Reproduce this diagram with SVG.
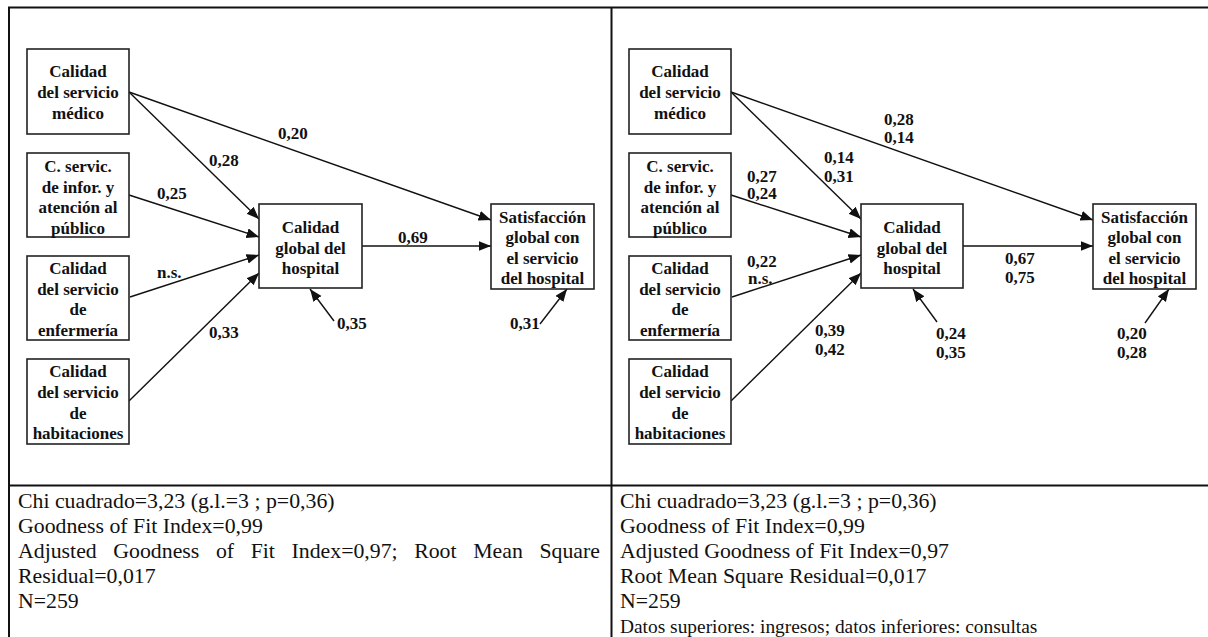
<svg xmlns="http://www.w3.org/2000/svg" width="1208" height="637" viewBox="0 0 1208 637">
  <style>
    .frame { stroke: #111; stroke-width: 2; fill: none; }
    .box { fill: #fff; stroke: #222; stroke-width: 1.6; }
    .serif { font-family: 'Liberation Serif', Tinos, 'Times New Roman', Times, 'Nimbus Roman', 'DejaVu Serif', serif; }
    .nt { font-weight: bold; font-size: 17px; fill: #111; text-anchor: middle; }
    .lbl { font-weight: bold; font-size: 17px; fill: #111; }
    .edge { stroke: #111; stroke-width: 1.4; fill: none; marker-end: url(#arrow); }
    .stat { font-size: 21.8px; fill: #111; }
    .note { font-size: 19.4px; fill: #111; }
  </style>
  <defs>
    <marker id="arrow" markerUnits="userSpaceOnUse" markerWidth="13" markerHeight="11" refX="12.5" refY="5" orient="auto">
      <path d="M0,0 L12.5,5 L0,10 z" fill="#111"/>
    </marker>
  </defs>
  <rect x="0" y="0" width="1208" height="637" fill="#fff"/>

  <!-- table frame -->
  <g id="frame">
    <line class="frame" x1="8" y1="7.5" x2="1208" y2="7.5"/>
    <line class="frame" x1="9" y1="7" x2="9" y2="637"/>
    <line class="frame" x1="611.5" y1="7" x2="611.5" y2="637"/>
    <line class="frame" x1="9" y1="485.5" x2="1208" y2="485.5"/>
  </g>

  <g class="serif" font-family="Liberation Serif, Tinos, Times New Roman, DejaVu Serif, serif">
  <!-- ===== left model ===== -->
  <g id="connectors-left">
    <line class="edge" x1="129" y1="92" x2="491" y2="220"/>
    <line class="edge" x1="129" y1="92" x2="259" y2="219"/>
    <line class="edge" x1="129" y1="195" x2="259" y2="237"/>
    <line class="edge" x1="130" y1="297" x2="259" y2="255"/>
    <line class="edge" x1="129" y1="401" x2="259" y2="273"/>
    <line class="edge" x1="362" y1="246" x2="491" y2="246"/>
    <line class="edge" x1="334" y1="321" x2="310" y2="289"/>
    <line class="edge" x1="540" y1="324" x2="567" y2="289"/>
    <text class="lbl" x="278" y="139">0,20</text>
    <text class="lbl" x="209" y="166">0,28</text>
    <text class="lbl" x="157" y="199">0,25</text>
    <text class="lbl" x="157" y="278">n.s.</text>
    <text class="lbl" x="209" y="338">0,33</text>
    <text class="lbl" x="398" y="243">0,69</text>
    <text class="lbl" x="337" y="329">0,35</text>
    <text class="lbl" x="510" y="329">0,31</text>
  </g>

  <g id="L-medico">
    <rect class="box" x="27" y="49" width="102" height="85"/>
    <text class="nt" x="78" y="77">Calidad</text>
    <text class="nt" x="78" y="98">del servicio</text>
    <text class="nt" x="78" y="119">médico</text>
  </g>
  <g id="L-informacion">
    <rect class="box" x="27" y="153" width="102" height="84"/>
    <text class="nt" x="78" y="172">C. servic.</text>
    <text class="nt" x="78" y="193">de infor. y</text>
    <text class="nt" x="78" y="213">atención al</text>
    <text class="nt" x="78" y="234">público</text>
  </g>
  <g id="L-enfermeria">
    <rect class="box" x="27" y="256" width="102" height="84"/>
    <text class="nt" x="78" y="274">Calidad</text>
    <text class="nt" x="78" y="295">del servicio</text>
    <text class="nt" x="78" y="315">de</text>
    <text class="nt" x="78" y="336">enfermería</text>
  </g>
  <g id="L-habitaciones">
    <rect class="box" x="27" y="359" width="102" height="85"/>
    <text class="nt" x="78" y="377">Calidad</text>
    <text class="nt" x="78" y="398">del servicio</text>
    <text class="nt" x="78" y="419">de</text>
    <text class="nt" x="78" y="439">habitaciones</text>
  </g>
  <g id="L-global">
    <rect class="box" x="259" y="204" width="103" height="84"/>
    <text class="nt" x="310.5" y="233">Calidad</text>
    <text class="nt" x="310.5" y="254">global del</text>
    <text class="nt" x="310.5" y="274">hospital</text>
  </g>
  <g id="L-satisfaccion">
    <rect class="box" x="491" y="204" width="103" height="85"/>
    <text class="nt" x="542.5" y="223">Satisfacción</text>
    <text class="nt" x="542.5" y="243">global con</text>
    <text class="nt" x="542.5" y="264">el servicio</text>
    <text class="nt" x="542.5" y="284">del hospital</text>
  </g>

  <!-- ===== right model (same layout, two samples) ===== -->
  <g id="connectors-right">
    <line class="edge" x1="731" y1="92" x2="1093" y2="220"/>
    <line class="edge" x1="731" y1="92" x2="861" y2="219"/>
    <line class="edge" x1="731" y1="195" x2="861" y2="237"/>
    <line class="edge" x1="732" y1="297" x2="861" y2="255"/>
    <line class="edge" x1="731" y1="401" x2="861" y2="273"/>
    <line class="edge" x1="963" y1="246" x2="1093" y2="246"/>
    <line class="edge" x1="937" y1="322" x2="913" y2="289"/>
    <line class="edge" x1="1145" y1="323" x2="1169" y2="289"/>
    <text class="lbl" x="884" y="125">0,28</text>
    <text class="lbl" x="884" y="143">0,14</text>
    <text class="lbl" x="824" y="163">0,14</text>
    <text class="lbl" x="824" y="182">0,31</text>
    <text class="lbl" x="747" y="182">0,27</text>
    <text class="lbl" x="747" y="199">0,24</text>
    <text class="lbl" x="747" y="267">0,22</text>
    <text class="lbl" x="748" y="284">n.s.</text>
    <text class="lbl" x="815" y="336">0,39</text>
    <text class="lbl" x="815" y="355">0,42</text>
    <text class="lbl" x="1005" y="264">0,67</text>
    <text class="lbl" x="1005" y="283">0,75</text>
    <text class="lbl" x="936" y="339">0,24</text>
    <text class="lbl" x="936" y="358">0,35</text>
    <text class="lbl" x="1117" y="339">0,20</text>
    <text class="lbl" x="1117" y="358">0,28</text>
  </g>

  <g id="R-medico">
    <rect class="box" x="629" y="49" width="102" height="85"/>
    <text class="nt" x="680" y="77">Calidad</text>
    <text class="nt" x="680" y="98">del servicio</text>
    <text class="nt" x="680" y="119">médico</text>
  </g>
  <g id="R-informacion">
    <rect class="box" x="629" y="153" width="102" height="84"/>
    <text class="nt" x="680" y="172">C. servic.</text>
    <text class="nt" x="680" y="193">de infor. y</text>
    <text class="nt" x="680" y="213">atención al</text>
    <text class="nt" x="680" y="234">público</text>
  </g>
  <g id="R-enfermeria">
    <rect class="box" x="629" y="256" width="102" height="84"/>
    <text class="nt" x="680" y="274">Calidad</text>
    <text class="nt" x="680" y="295">del servicio</text>
    <text class="nt" x="680" y="315">de</text>
    <text class="nt" x="680" y="336">enfermería</text>
  </g>
  <g id="R-habitaciones">
    <rect class="box" x="629" y="359" width="102" height="85"/>
    <text class="nt" x="680" y="377">Calidad</text>
    <text class="nt" x="680" y="398">del servicio</text>
    <text class="nt" x="680" y="419">de</text>
    <text class="nt" x="680" y="439">habitaciones</text>
  </g>
  <g id="R-global">
    <rect class="box" x="861" y="204" width="102" height="84"/>
    <text class="nt" x="912" y="233">Calidad</text>
    <text class="nt" x="912" y="254">global del</text>
    <text class="nt" x="912" y="274">hospital</text>
  </g>
  <g id="R-satisfaccion">
    <rect class="box" x="1093" y="204" width="103" height="85"/>
    <text class="nt" x="1144.5" y="223">Satisfacción</text>
    <text class="nt" x="1144.5" y="243">global con</text>
    <text class="nt" x="1144.5" y="264">el servicio</text>
    <text class="nt" x="1144.5" y="284">del hospital</text>
  </g>

  <!-- fit statistics -->
  <g id="stats-left">
    <text class="stat" x="18" y="508">Chi cuadrado=3,23 (g.l.=3 ; p=0,36)</text>
    <text class="stat" x="18" y="533">Goodness of Fit Index=0,99</text>
    <text class="stat" y="558"><tspan x="18">Adjusted</tspan><tspan x="113.3">Goodness</tspan><tspan x="215.9">of</tspan><tspan x="250.7">Fit</tspan><tspan x="291.5">Index=0,97;</tspan><tspan x="414.2">Root</tspan><tspan x="473.2">Mean</tspan><tspan x="539.4">Square</tspan></text>
    <text class="stat" x="18" y="583">Residual=0,017</text>
    <text class="stat" x="18" y="608">N=259</text>
  </g>
  <g id="stats-right">
    <text class="stat" x="620" y="508">Chi cuadrado=3,23 (g.l.=3 ; p=0,36)</text>
    <text class="stat" x="620" y="533">Goodness of Fit Index=0,99</text>
    <text class="stat" x="620" y="558">Adjusted Goodness of Fit Index=0,97</text>
    <text class="stat" x="620" y="583">Root Mean Square Residual=0,017</text>
    <text class="stat" x="620" y="608">N=259</text>
    <text class="note" x="620" y="633">Datos superiores: ingresos; datos inferiores: consultas</text>
  </g>
  </g>
</svg>
